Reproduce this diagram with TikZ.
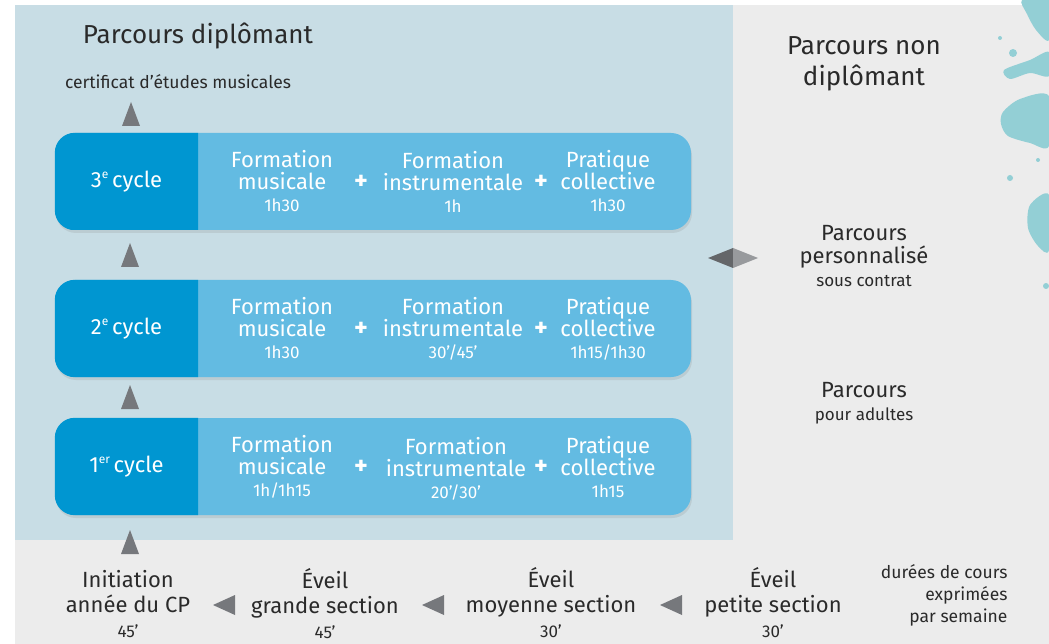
\documentclass[tikz,border=0pt]{standalone}
\usepackage{fontspec}
\setmainfont{Fira Sans}
\usetikzlibrary{shadows}

\definecolor{panelblue}{HTML}{C8DDE5}
\definecolor{bggray}{HTML}{ECECEC}
\definecolor{cycdark}{HTML}{0096D1}
\definecolor{cyclight}{HTML}{63BBE2}
\definecolor{trigray}{HTML}{76787C}
\definecolor{txtdark}{HTML}{2A2A2A}
\definecolor{splash}{HTML}{93CFD5}

\begin{document}
\begin{tikzpicture}[x=1pt, y=-1pt,
  title/.style={text=txtdark, font=\fontsize{26}{31}\selectfont, align=center},
  sub/.style={text=txtdark, font=\fontsize{22}{23}\selectfont, align=center},
  stage/.style={text=txtdark, font=\fontsize{22}{25}\selectfont, align=center},
  note/.style={text=txtdark, font=\fontsize{17.5}{22}\selectfont},
  cycbox/.style={fill=cyclight, rounded corners=20pt, minimum width=636pt, minimum height=97pt, inner sep=0pt,
    drop shadow={opacity=0.18, shadow xshift=1pt, shadow yshift=-3pt}},
  cyclab/.style={text=white, font=\fontsize{22}{24}\selectfont},
  coltxt/.style={text=white, font=\fontsize{22}{22}\selectfont, align=center},
  plus/.style={text=white, font=\bfseries\fontsize{26}{26}\selectfont},
  tri/.style={fill=trigray}]

\useasboundingbox (0,0) rectangle (1049,644);
\fill[bggray] (15,5) rectangle (1049,644);
\fill[panelblue] (15,5) rectangle (733,540);

% splash
\fill[splash] plot[smooth cycle] coordinates {(1022,0) (1049,0) (1049,40) (1036,30) (1027,14)};
\fill[splash] plot[smooth cycle] coordinates {(1004,70) (1030,60) (1049,52) (1049,76) (1030,73) (1010,79)};
\fill[splash] plot[smooth cycle] coordinates {(1003,112) (1020,99) (1049,96) (1049,146) (1030,143) (1008,136) (1001,124)};
\fill[splash] plot[smooth cycle] coordinates {(1030,205) (1049,195) (1049,250) (1038,246) (1028,228)};
\fill[splash] (1013,53) circle (4);
\fill[splash] (1000,38) circle (2);
\fill[splash] (1010,178) circle (3);
\fill[splash] (1038,160) circle (2);
\fill[splash] (1046,286) circle (3);

\node[title] (dip) at (198,36) {Parcours diplômant};
\node[note] (cert) at (178,82) {certificat d’études musicales};

% 3e cycle
\node[cycbox] (c3) at (373,181.5) {};
\begin{scope}
\clip (c3.north west) rectangle (198,230);
\fill[cycdark, rounded corners=20pt] (c3.north west) rectangle (c3.south east);
\end{scope}
\node[cyclab] (l3) at (126.5,181.5) {3\raisebox{0.42em}{\fontsize{12}{12}\selectfont e}\,cycle};
\node[coltxt] (fm3) at (282,181.5) {Formation\\musicale\\{\fontsize{17}{17}\selectfont 1h30}};
\node[plus] (p3a) at (361,182) {+};
\node[coltxt] (fi3) at (453,181.5) {Formation\\instrumentale\\{\fontsize{17}{17}\selectfont 1h}};
\node[plus] (p3b) at (541,182) {+};
\node[coltxt] (pc3) at (608,181.5) {Pratique\\collective\\{\fontsize{17}{17}\selectfont 1h30}};

% 2e cycle
\node[cycbox] (c2) at (373,328.5) {};
\begin{scope}
\clip (c2.north west) rectangle (198,377);
\fill[cycdark, rounded corners=20pt] (c2.north west) rectangle (c2.south east);
\end{scope}
\node[cyclab] (l2) at (126.5,328.5) {2\raisebox{0.42em}{\fontsize{12}{12}\selectfont e}\,cycle};
\node[coltxt] (fm2) at (282,328.5) {Formation\\musicale\\{\fontsize{17}{17}\selectfont 1h30}};
\node[plus] (p2a) at (361,329) {+};
\node[coltxt] (fi2) at (453,328.5) {Formation\\instrumentale\\{\fontsize{17}{17}\selectfont 30’/45’}};
\node[plus] (p2b) at (541,329) {+};
\node[coltxt] (pc2) at (608,328.5) {Pratique\\collective\\{\fontsize{17}{17}\selectfont 1h15/1h30}};

% 1er cycle
\node[cycbox] (c1) at (373,466.5) {};
\begin{scope}
\clip (c1.north west) rectangle (198,515);
\fill[cycdark, rounded corners=20pt] (c1.north west) rectangle (c1.south east);
\end{scope}
\node[cyclab] (l1) at (126.5,466.5) {1\raisebox{0.42em}{\fontsize{12}{12}\selectfont er}\,cycle};
\node[coltxt] (fm1) at (282,466.5) {Formation\\musicale\\{\fontsize{17}{17}\selectfont 1h/1h15}};
\node[plus] (p1a) at (361,467) {+};
\node[coltxt] (fi1) at (456,468.5) {Formation\\instrumentale\\{\fontsize{17}{17}\selectfont 20’/30’}};
\node[plus] (p1b) at (541,467) {+};
\node[coltxt] (pc1) at (608,467.5) {Pratique\\collective\\{\fontsize{17}{17}\selectfont 1h15}};

% up arrows
\fill[tri] (131,102) -- (140,126) -- (122,126) -- cycle;
\fill[tri] (130,243) -- (139,267) -- (121,267) -- cycle;
\fill[tri] (130,385) -- (139,409) -- (121,409) -- cycle;
\fill[tri] (130,530) -- (139,554) -- (121,554) -- cycle;

% double arrow
\fill[trigray!85!black] (708,258) -- (733,248) -- (733,268) -- cycle;
\fill[trigray!75!white] (758,258) -- (733,248) -- (733,268) -- cycle;

\node[title] (nondip) at (864,64) {Parcours non\\diplômant};
\node[sub] (perso) at (864,256) {Parcours\\personnalisé\\{\fontsize{17}{17}\selectfont sous contrat}};
\node[sub] (adult) at (864,403) {Parcours\\{\fontsize{17}{17}\selectfont pour adultes}};

% eveil
\node[stage] (init) at (128,604) {Initiation\\année du CP\\{\fontsize{17}{17}\selectfont 45’}};
\node[stage] (gs) at (325,604) {Éveil\\grande section\\{\fontsize{17}{17}\selectfont 45’}};
\node[stage] (ms) at (551,603) {Éveil\\moyenne section\\{\fontsize{17}{17}\selectfont 30’}};
\node[stage] (ps) at (773,603) {Éveil\\petite section\\{\fontsize{17}{17}\selectfont 30’}};
\fill[tri] (213,605) -- (235,595) -- (235,615) -- cycle;
\fill[tri] (422,605) -- (444,595) -- (444,615) -- cycle;
\fill[tri] (660,605) -- (682,595) -- (682,615) -- cycle;
\node[note, align=right, anchor=east] (dur) at (1011,595) {durées de cours\\exprimées\\par semaine};

\end{tikzpicture}
\end{document}
